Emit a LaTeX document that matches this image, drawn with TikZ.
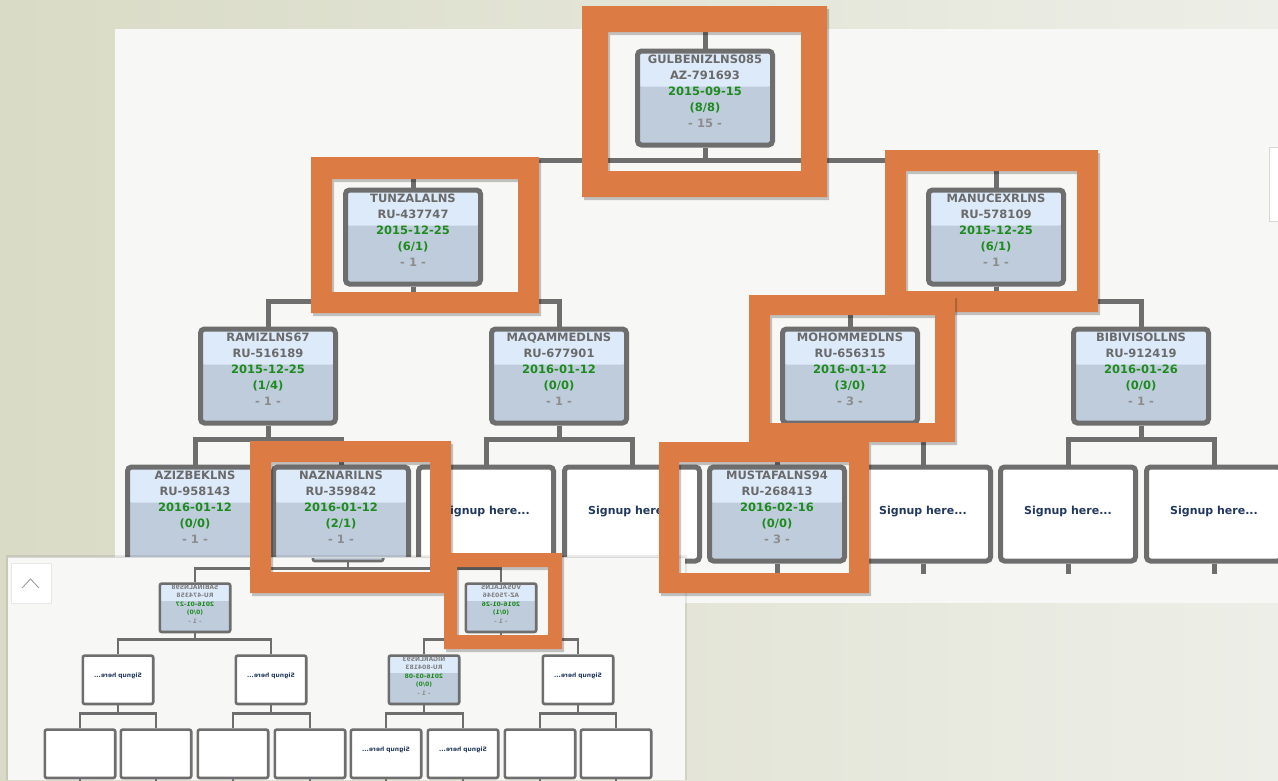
\documentclass[tikz,border=0pt]{standalone}
\usepackage{fontspec}
\setmainfont{DejaVu Sans}
\usepackage{graphicx}
\usetikzlibrary{calc}
\definecolor{bgl}{HTML}{D9DBC6}
\definecolor{bgr}{HTML}{EDEEE7}
\definecolor{panelc}{HTML}{F7F7F5}
\definecolor{borderc}{HTML}{6E6E6E}
\definecolor{bandc}{HTML}{DDEAFA}
\definecolor{lowerc}{HTML}{BFCCDC}
\definecolor{namec}{HTML}{6A6A6A}
\definecolor{greenc}{HTML}{1E8B1E}
\definecolor{rankc}{HTML}{8C8C8C}
\definecolor{signc}{HTML}{22395F}
\definecolor{orangec}{HTML}{DC7C44}
\definecolor{edgec}{HTML}{D8D8D8}
\tikzset{
  mbox/.style={draw=borderc, line width=5pt, rounded corners=4pt, minimum width=135pt,
    minimum height=94pt, inner sep=0pt, anchor=north, fill=lowerc,
    path picture={\fill[bandc] ([yshift=4pt]path picture bounding box.north west) rectangle ([yshift=-35.5pt]path picture bounding box.north east);}},
  sbox/.style={draw=borderc, line width=5pt, rounded corners=4pt, minimum width=135pt,
    minimum height=94pt, inner sep=0pt, anchor=north, fill=white},
  ibox/.style={draw=borderc, line width=2.6pt, rounded corners=2pt, minimum width=70.4pt,
    minimum height=48.4pt, inner sep=0pt, anchor=north, fill=lowerc,
    path picture={\fill[bandc] ([yshift=3pt]path picture bounding box.north west) rectangle ([yshift=-17.2pt]path picture bounding box.north east);}},
  iwbox/.style={draw=borderc, line width=2.6pt, rounded corners=2pt, minimum width=70.4pt,
    minimum height=48.4pt, inner sep=0pt, anchor=north, fill=white},
  conn/.style={draw=borderc, line width=5pt},
  iconn/.style={draw=borderc, line width=2.6pt},
  ntxt/.style={anchor=base, inner sep=0pt, text=namec, font=\bfseries\fontsize{11.5}{14}\selectfont},
  gtxt/.style={anchor=base, inner sep=0pt, text=greenc, font=\bfseries\fontsize{11.5}{14}\selectfont},
  rtxt/.style={anchor=base, inner sep=0pt, text=rankc, font=\bfseries\fontsize{11.5}{14}\selectfont},
  stxt/.style={anchor=base, inner sep=0pt, text=signc, font=\bfseries\fontsize{11}{13}\selectfont},
  intxt/.style={anchor=base, inner sep=0pt, text=namec!85, font=\bfseries\fontsize{6}{7}\selectfont},
  igtxt/.style={anchor=base, inner sep=0pt, text=greenc, font=\bfseries\fontsize{6}{7}\selectfont},
  irtxt/.style={anchor=base, inner sep=0pt, text=rankc, font=\bfseries\fontsize{6}{7}\selectfont},
  istxt/.style={anchor=base, inner sep=0pt, text=signc, font=\bfseries\fontsize{6}{7}\selectfont},
}
\newcommand\tnode[8]{%
  \node[mbox] (#1) at (#2,#3+2.5) {};
  \node[ntxt] (#1-a) at ($(#1.north)+(0,14.7)$) {#4};
  \node[ntxt] (#1-b) at ($(#1.north)+(0,30.7)$) {#5};
  \node[gtxt] (#1-c) at ($(#1.north)+(0,46.7)$) {#6};
  \node[gtxt] (#1-d) at ($(#1.north)+(0,62.7)$) {#7};
  \node[rtxt] (#1-e) at ($(#1.north)+(0,78.7)$) {#8};
}
\newcommand\snode[3]{%
  \node[sbox] (#1) at (#2,#3+2.5) {};
  \node[stxt] (#1-a) at ($(#1.center)+(0,0)$) {Signup here...};
}
\newcommand\itnode[8]{%
  \node[ibox] (#1) at (#2,#3+1.3) {};
  \node[intxt] (#1-a) at ($(#1.north)+(0,6.9)$) {\reflectbox{#4}};
  \node[intxt] (#1-b) at ($(#1.north)+(0,15.4)$) {\reflectbox{#5}};
  \node[igtxt] (#1-c) at ($(#1.north)+(0,23.9)$) {\reflectbox{#6}};
  \node[igtxt] (#1-d) at ($(#1.north)+(0,32.4)$) {\reflectbox{#7}};
  \node[irtxt] (#1-e) at ($(#1.north)+(0,40.9)$) {\reflectbox{#8}};
}
\newcommand\isnode[3]{%
  \node[iwbox] (#1) at (#2,#3+1.3) {};
  \node[istxt] (#1-a) at ($(#1.north)+(0,23.4)$) {\reflectbox{Signup here...}};
}
\newcommand\oframe[8]{%
  \fill[black, opacity=.22, even odd rule, shift={(2,3)}] (#1,#2) rectangle (#3,#4) (#5,#6) rectangle (#7,#8);
  \fill[orangec, even odd rule] (#1,#2) rectangle (#3,#4) (#5,#6) rectangle (#7,#8);
}
\begin{document}
\begin{tikzpicture}[x=1pt,y=-1pt]
\useasboundingbox (0,0) rectangle (1278,780);
\shade[left color=bgl, right color=bgr] (0,0) rectangle (1278,780);
% main panel
\fill[panelc] (115,29) rectangle (1278,603);
\filldraw[fill=white, draw=edgec, line width=0.8pt] (1269.5,147.5) rectangle (1290,221.5);

% main tree
\tnode{root}{705}{46}{GULBENIZLNS085}{AZ-791693}{2015-09-15}{(8/8)}{- 15 -}
\tnode{tunz}{413}{185}{TUNZALALNS}{RU-437747}{2015-12-25}{(6/1)}{- 1 -}
\tnode{manu}{996}{185}{MANUCEXRLNS}{RU-578109}{2015-12-25}{(6/1)}{- 1 -}
\tnode{ramiz}{268}{324}{RAMIZLNS67}{RU-516189}{2015-12-25}{(1/4)}{- 1 -}
\tnode{maqam}{559}{324}{MAQAMMEDLNS}{RU-677901}{2016-01-12}{(0/0)}{- 1 -}
\tnode{mohom}{850}{324}{MOHOMMEDLNS}{RU-656315}{2016-01-12}{(3/0)}{- 3 -}
\tnode{bibiv}{1141}{324}{BIBIVISOLLNS}{RU-912419}{2016-01-26}{(0/0)}{- 1 -}
\tnode{aziz}{195}{462}{AZIZBEKLNS}{RU-958143}{2016-01-12}{(0/0)}{- 1 -}
\tnode{nazn}{341}{462}{NAZNARILNS}{RU-359842}{2016-01-12}{(2/1)}{- 1 -}
\snode{sa}{486}{462}
\snode{sb}{632}{462}
\tnode{musta}{777}{462}{MUSTAFALNS94}{RU-268413}{2016-02-16}{(0/0)}{- 3 -}
\snode{sc}{923}{462}
\snode{sd}{1068}{462}
\snode{se}{1214}{462}

\coordinate (roottop) at (705,29);
\draw[conn] (root.north) -- (roottop);
\draw[conn] (root.south) -- ++(0,12.5) -| (tunz.north);
\draw[conn] (root.south) -- ++(0,12.5) -| (manu.north);
\draw[conn] (tunz.south) -- ++(0,14.5) -| (ramiz.north);
\draw[conn] (tunz.south) -- ++(0,14.5) -| (maqam.north);
\draw[conn] (manu.south) -- ++(0,14.5) -| (mohom.north);
\draw[conn] (manu.south) -- ++(0,14.5) -| (bibiv.north);
\draw[conn] (ramiz.south) -- ++(0,13.5) -| (aziz.north);
\draw[conn] (ramiz.south) -- ++(0,13.5) -| (nazn.north);
\draw[conn] (maqam.south) -- ++(0,13.5) -| (sa.north);
\draw[conn] (maqam.south) -- ++(0,13.5) -| (sb.north);
\draw[conn] (mohom.south) -- ++(0,13.5) -| (musta.north);
\draw[conn] (mohom.south) -- ++(0,13.5) -| (sc.north);
\draw[conn] (bibiv.south) -- ++(0,13.5) -| (sd.north);
\draw[conn] (bibiv.south) -- ++(0,13.5) -| (se.north);
\foreach \n in {aziz,nazn,sa,sb,musta,sc,sd,se}{
  \coordinate (\n-bot) at ($(\n.south)+(0,10)$);
  \draw[conn] (\n.south) -- (\n-bot);
}

% orange highlight frames (main)
\oframe{582}{6}{827}{197}{608}{32}{801}{171}
\oframe{311}{157}{539}{313}{332}{179}{518}{292}
\oframe{885}{150}{1098}{312}{906}{171}{1077}{291}
\oframe{749}{295}{955}{442}{770}{315}{935}{423}

% inset panel
\fill[black, opacity=.08] (6,555) rectangle (687,780);
\begin{scope}
\clip (8,557) rectangle (685,780);
\fill[panelc] (8,557) rectangle (685,780);
\filldraw[fill=white, draw=edgec!60, line width=0.6pt] (11,563) rectangle (51,603);
\draw[gray!75, line width=0.9pt] (22,588) -- (30.5,579) -- (39,588);

\node[ibox] (ipar) at (348,511.3) {};
\itnode{sabina}{195}{581}{SABINALNS98}{RU-474358}{2016-01-27}{(0/0)}{- 1 -}
\itnode{vusala}{501}{581}{VUSALALNS}{AZ-750346}{2016-01-26}{(0/1)}{- 1 -}
\isnode{isa}{118}{653}
\isnode{isb}{271}{653}
\itnode{nigar}{424}{653}{NIGARLNS93}{RU-804183}{2016-03-08}{(0/0)}{- 1 -}
\isnode{isc}{578}{653}
\node[iwbox] (ea) at (80,728.3) {};
\node[iwbox] (eb) at (156,728.3) {};
\node[iwbox] (ec) at (233,728.3) {};
\node[iwbox] (ed) at (310,728.3) {};
\isnode{ise}{386}{727}
\isnode{isf}{463}{727}
\node[iwbox] (eg) at (540,728.3) {};
\node[iwbox] (eh) at (616,728.3) {};

\draw[iconn] (ipar.south) -- ++(0,6.3) -| (sabina.north);
\draw[iconn] (ipar.south) -- ++(0,6.3) -| (vusala.north);
\draw[iconn] (sabina.south) -- ++(0,6.3) -| (isa.north);
\draw[iconn] (sabina.south) -- ++(0,6.3) -| (isb.north);
\draw[iconn] (vusala.south) -- ++(0,6.3) -| (nigar.north);
\draw[iconn] (vusala.south) -- ++(0,6.3) -| (isc.north);
\draw[iconn] (isa.south) -- ++(0,8.3) -| (ea.north);
\draw[iconn] (isa.south) -- ++(0,8.3) -| (eb.north);
\draw[iconn] (isb.south) -- ++(0,8.3) -| (ec.north);
\draw[iconn] (isb.south) -- ++(0,8.3) -| (ed.north);
\draw[iconn] (nigar.south) -- ++(0,8.3) -| (ise.north);
\draw[iconn] (nigar.south) -- ++(0,8.3) -| (isf.north);
\draw[iconn] (isc.south) -- ++(0,8.3) -| (eg.north);
\draw[iconn] (isc.south) -- ++(0,8.3) -| (eh.north);
\foreach \n in {ea,eb,ec,ed,ise,isf,eg,eh}{
  \coordinate (\n-bot) at ($(\n.south)+(0,8)$);
  \draw[iconn] (\n.south) -- (\n-bot);
}
\end{scope}
\draw[edgec, line width=0.6pt] (8,557) -- (685,557);

% orange frames over inset
\oframe{250}{441}{451}{593}{271}{462}{430}{572}
\oframe{659}{442}{869}{593}{679}{462}{849}{573}
\oframe{444}{553}{562}{649}{457}{567}{548}{635}
\end{tikzpicture}
\end{document}
